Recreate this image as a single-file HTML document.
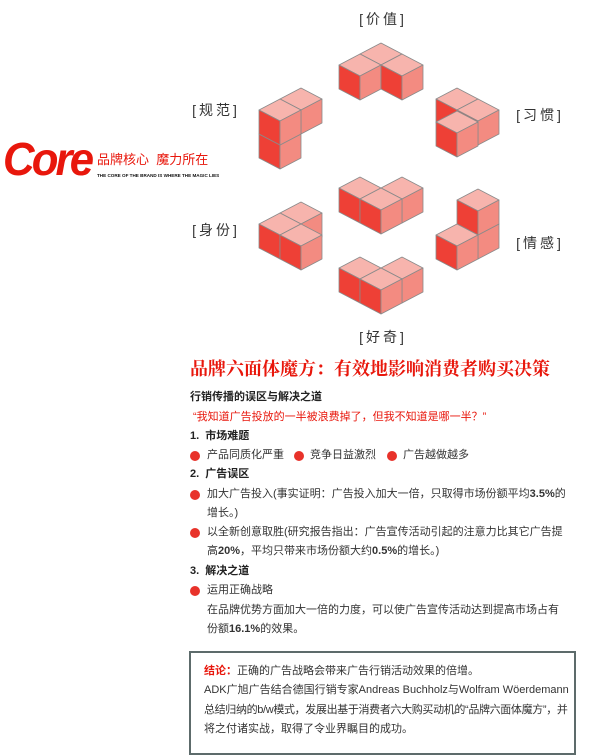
<!DOCTYPE html>
<html><head><meta charset="utf-8"><style>
body{margin:0;width:600px;height:744px;overflow:hidden;background:#fff;font-family:"Liberation Sans","Noto Sans CJK SC",sans-serif;position:relative}
.a{position:absolute;white-space:nowrap;line-height:1}
.lb{font-size:14px;color:#333;letter-spacing:3px;transform:translate(-50%,-50%)}
.t{font-size:11px;color:#333}
.d{position:absolute;width:10px;height:10px;border-radius:50%;background:#e8322a}
</style></head><body>
<svg width="600" height="340" style="position:absolute;left:0;top:0">
<defs><g id="c" stroke="#8a8a8a" stroke-width="0.8" stroke-linejoin="round">
<polygon points="0,0 21,11 0,22 -21,11" fill="#f7b4ad"/>
<polygon points="-21,11 0,22 0,46 -21,35" fill="#ee4036"/>
<polygon points="0,22 21,11 21,35 0,46" fill="#f38b81"/>
</g></defs>
<use href="#c" x="381" y="43"/><use href="#c" x="360" y="54"/><use href="#c" x="402" y="54"/>
<use href="#c" x="280" y="123"/><use href="#c" x="301" y="88"/><use href="#c" x="280" y="99"/>
<use href="#c" x="457" y="88"/><use href="#c" x="478" y="99"/><use href="#c" x="457" y="111"/>
<use href="#c" x="360" y="177"/><use href="#c" x="402" y="177"/><use href="#c" x="381" y="188"/>
<use href="#c" x="301" y="202"/><use href="#c" x="280" y="213"/><use href="#c" x="301" y="224"/>
<use href="#c" x="478" y="213"/><use href="#c" x="478" y="189"/><use href="#c" x="457" y="224"/>
<use href="#c" x="360" y="257"/><use href="#c" x="402" y="257"/><use href="#c" x="381" y="268"/>
</svg>
<div class="a lb" style="left:383px;top:19px">[价值]</div>
<div class="a lb" style="left:216px;top:110px">[规范]</div>
<div class="a lb" style="left:540px;top:115px">[习惯]</div>
<div class="a lb" style="left:216px;top:230px">[身份]</div>
<div class="a lb" style="left:540px;top:243px">[情感]</div>
<div class="a lb" style="left:383px;top:337px">[好奇]</div>

<div class="a" style="left:3px;top:136px;font-size:46px;font-weight:bold;font-style:italic;color:#e8170c;letter-spacing:-3px;transform:scaleX(0.95);transform-origin:left">Core</div>
<div class="a" style="left:97px;top:153px;font-size:13px;color:#e8170c">品牌核心&nbsp;&nbsp;魔力所在</div>
<div class="a" style="left:97px;top:174px;font-size:4.6px;font-weight:bold;color:#111">THE CORE OF THE BRAND IS WHERE THE MAGIC LIES</div>

<div class="a" style="left:190px;top:360px;font-size:18px;color:#e8170c;font-family:'Liberation Serif','Noto Serif CJK SC',serif;font-weight:bold">品牌六面体魔方：有效地影响消费者购买决策</div>
<div class="a t" style="left:190px;top:392px;color:#222;font-weight:bold">行销传播的误区与解决之道</div>
<div class="a t" style="left:193px;top:412px;color:#e8170c">“我知道广告投放的一半被浪费掉了，但我不知道是哪一半？”</div>
<div class="a t" style="left:190px;top:431px;font-weight:bold;color:#222">1.&nbsp;&nbsp;市场难题</div>
<div class="d" style="left:190px;top:451px"></div><div class="a t" style="left:207px;top:450px">产品同质化严重</div>
<div class="d" style="left:294px;top:451px"></div><div class="a t" style="left:310px;top:450px">竞争日益激烈</div>
<div class="d" style="left:387px;top:451px"></div><div class="a t" style="left:403px;top:450px">广告越做越多</div>
<div class="a t" style="left:190px;top:469px;font-weight:bold;color:#222">2.&nbsp;&nbsp;广告误区</div>
<div class="d" style="left:190px;top:490px"></div><div class="a t" style="left:207px;top:489px">加大广告投入(事实证明：广告投入加大一倍，只取得市场份额平均<b>3.5%</b>的</div>
<div class="a t" style="left:207px;top:508px">增长。)</div>
<div class="d" style="left:190px;top:528px"></div><div class="a t" style="left:207px;top:527px">以全新创意取胜(研究报告指出：广告宣传活动引起的注意力比其它广告提</div>
<div class="a t" style="left:207px;top:546px">高<b>20%</b>，平均只带来市场份额大约<b>0.5%</b>的增长。)</div>
<div class="a t" style="left:190px;top:566px;font-weight:bold;color:#222">3.&nbsp;&nbsp;解决之道</div>
<div class="d" style="left:190px;top:586px"></div><div class="a t" style="left:207px;top:585px">运用正确战略</div>
<div class="a t" style="left:207px;top:605px">在品牌优势方面加大一倍的力度，可以使广告宣传活动达到提高市场占有</div>
<div class="a t" style="left:207px;top:624px">份额<b>16.1%</b>的效果。</div>

<div style="position:absolute;left:189px;top:651px;width:383px;height:100px;border:2px solid #5d6b6b"></div>
<div class="a t" style="left:204px;top:666px"><b style="color:#e8170c">结论：</b>正确的广告战略会带来广告行销活动效果的倍增。</div>
<div class="a t" style="left:204px;top:685px">ADK广旭广告结合德国行销专家Andreas Buchholz与Wolfram Wöerdemann</div>
<div class="a t" style="left:204px;top:705px;letter-spacing:-0.35px">总结归纳的b/w模式，发展出基于消费者六大购买动机的“品牌六面体魔方”，并</div>
<div class="a t" style="left:204px;top:724px">将之付诸实战，取得了令业界瞩目的成功。</div>
</body></html>
